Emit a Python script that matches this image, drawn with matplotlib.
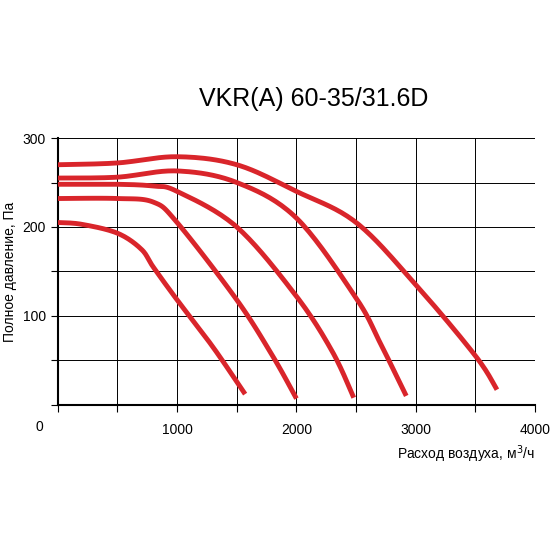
import matplotlib
matplotlib.use("Agg")
import matplotlib.pyplot as plt
import numpy as np

plt.rcParams['font.family'] = ['Liberation Sans', 'DejaVu Sans']

title = "VKR(A) 60-35/31.6D"
c1_x = [0, 500, 1000, 1500, 2000, 2500, 3000, 3500, 3680]
c1_y = [270, 272, 279, 270, 240, 205, 135, 55, 17]
c2_x = [0, 500, 1000, 1500, 2000, 2500, 2700, 2920]
c2_y = [255, 256, 263, 250, 210, 120, 70, 10]
c3_x = [0, 500, 800, 1000, 1500, 2000, 2300, 2480]
c3_y = [248, 248, 246, 240, 200, 122, 60, 8]
c4_x = [0, 500, 800, 1000, 1500, 1800, 2000]
c4_y = [232, 232, 228, 205, 118, 55, 7]
c5_x = [0, 200, 500, 700, 800, 1000, 1300, 1570]
c5_y = [205, 203, 193, 175, 155, 118, 65, 12]

def smooth(x, y):
    x = np.asarray(x, float); y = np.asarray(y, float)
    xs, ys = [], []
    P = list(zip(x, y))
    P = [P[0]] + P + [P[-1]]
    for i in range(1, len(P) - 2):
        p0, p1, p2, p3 = map(np.array, P[i-1:i+3])
        for s in np.linspace(0, 1, 20, endpoint=False):
            pt = 0.5 * ((2*p1) + (-p0+p2)*s + (2*p0-5*p1+4*p2-p3)*s**2 + (-p0+3*p1-3*p2+p3)*s**3)
            xs.append(pt[0]); ys.append(pt[1])
    xs.append(x[-1]); ys.append(y[-1])
    return xs, ys

fig = plt.figure(figsize=(5.5, 5.5), dpi=100)
ax = fig.add_axes([0.105, 0.264, 0.868, 0.485])
for cx, cy in [(c1_x, c1_y), (c2_x, c2_y), (c3_x, c3_y), (c4_x, c4_y), (c5_x, c5_y)]:
    sx, sy = smooth(cx, cy)
    ax.plot(sx, sy, color="#d9252b", lw=3.5, solid_capstyle="butt", zorder=3)

ax.set_xlim(0, 4000)
ax.set_ylim(0, 300)
ax.set_xticks(np.arange(0, 4001, 500))
ax.set_xticklabels(["", "", "1000", "", "2000", "", "3000", "", "4000"])
ax.set_yticks(np.arange(0, 301, 50))
ax.set_yticklabels(["", "", "100", "", "200", "", "300"])
ax.grid(True, color="black", lw=0.7)
for s in ["top", "right"]:
    ax.spines[s].set_visible(False)
ax.spines["left"].set_linewidth(1.5)
ax.spines["bottom"].set_linewidth(1.5)
ax.tick_params(axis="both", labelsize=10, length=5, direction="out")
ax.tick_params(axis="x", pad=8)
ax.text(-150, -25, "0", ha="center", va="center", fontsize=10)
ax.set_ylabel("Полное давление, Па", fontsize=10)
ax.text(4000, -55, "Расход воздуха, м$^3$/ч", ha="right", va="center", fontsize=10)
fig.text(0.57, 0.82, title, ha="center", va="center", fontsize=18)
fig.savefig("out.png", dpi=100)
